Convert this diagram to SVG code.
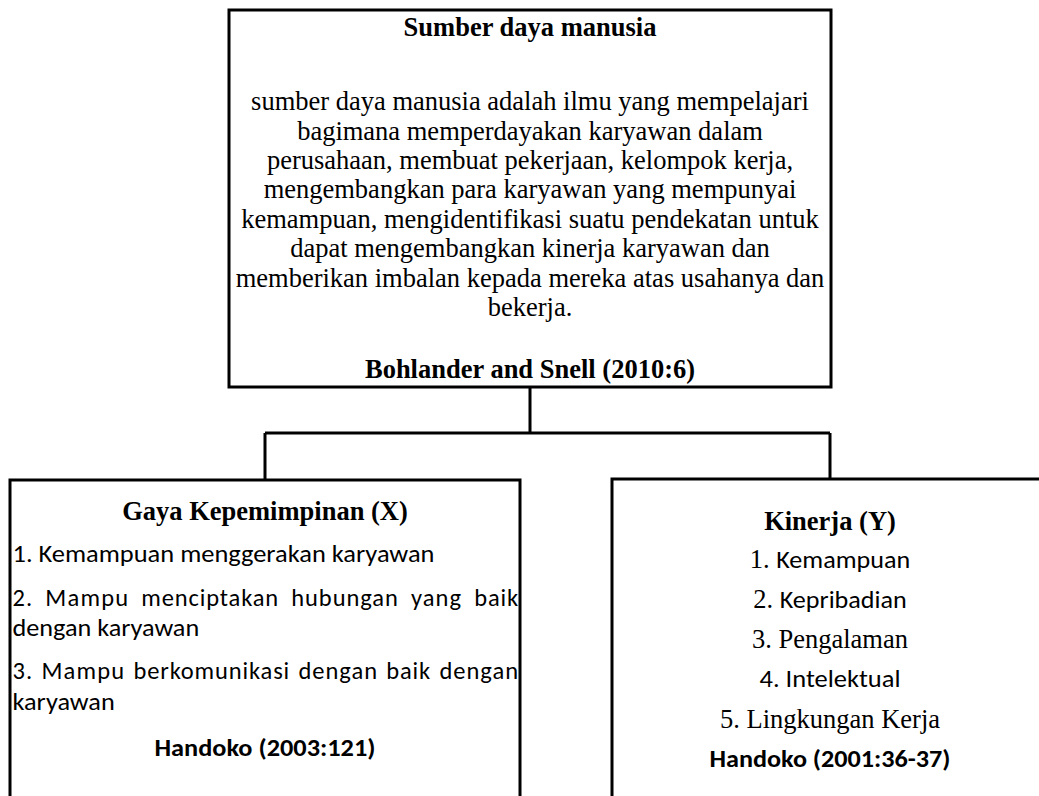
<svg xmlns="http://www.w3.org/2000/svg" width="1039" height="796" viewBox="0 0 1039 796">
<style>
.box{fill:#fff;stroke:#000;stroke-width:3}
.conn{fill:none;stroke:#000;stroke-width:3}
.serif{font-family:"Liberation Serif","Times New Roman",serif;font-size:26.5px;fill:#000}
.bold{font-weight:bold}
.sans{font-family:"Carlito","Lato","Liberation Sans",sans-serif;font-size:24.5px;fill:#000}
.mid{text-anchor:middle}
</style>
<rect width="1039" height="796" fill="#fff"/>
<g id="connectors">
<path class="conn" d="M530 387V433M265 433H830M265 433V480M830 433V479"/>
</g>
<g id="node-sdm">
<rect class="box" x="229" y="10" width="602" height="377"/>
<text class="serif bold mid" x="530" y="36">Sumber daya manusia</text>
<text class="serif mid" x="530" y="110">sumber daya manusia adalah ilmu yang mempelajari</text>
<text class="serif mid" x="530" y="140">bagimana memperdayakan karyawan dalam</text>
<text class="serif mid" x="530" y="169">perusahaan, membuat pekerjaan, kelompok kerja,</text>
<text class="serif mid" x="530" y="198">mengembangkan para karyawan yang mempunyai</text>
<text class="serif mid" x="530" y="228">kemampuan, mengidentifikasi suatu pendekatan untuk</text>
<text class="serif mid" x="530" y="257">dapat mengembangkan kinerja karyawan dan</text>
<text class="serif mid" x="530" y="287">memberikan imbalan kepada mereka atas usahanya dan</text>
<text class="serif mid" x="530" y="316">bekerja.</text>
<text class="serif bold mid" x="530" y="378">Bohlander and Snell (2010:6)</text>
</g>
<g id="node-gaya">
<rect class="box" x="10" y="480" width="510" height="400"/>
<text class="serif bold mid" x="265" y="520">Gaya Kepemimpinan (X)</text>
<text class="sans" x="12.5" y="562" textLength="422" lengthAdjust="spacingAndGlyphs">1. Kemampuan menggerakan karyawan</text>
<text class="sans" y="606" lengthAdjust="spacingAndGlyphs"><tspan x="12.5" textLength="19.7">2.</tspan><tspan x="45.3" textLength="82.8">Mampu</tspan><tspan x="141.2" textLength="137">menciptakan</tspan><tspan x="291.2" textLength="106.7">hubungan</tspan><tspan x="411" textLength="50.1">yang</tspan><tspan x="474.2" textLength="43.9">baik</tspan></text>
<text class="sans" x="12.5" y="636" textLength="186.7" lengthAdjust="spacingAndGlyphs">dengan karyawan</text>
<text class="sans" y="679" lengthAdjust="spacingAndGlyphs"><tspan x="12.5" textLength="19.7">3.</tspan><tspan x="41.4" textLength="82.8">Mampu</tspan><tspan x="133.5" textLength="155.7">berkomunikasi</tspan><tspan x="298.4" textLength="78.6">dengan</tspan><tspan x="386.2" textLength="43.9">baik</tspan><tspan x="439.4" textLength="78.6">dengan</tspan></text>
<text class="sans" x="12.5" y="710" textLength="102.2" lengthAdjust="spacingAndGlyphs">karyawan</text>
<text class="sans bold mid" x="265" y="756" textLength="221" lengthAdjust="spacingAndGlyphs">Handoko (2003:121)</text>
</g>
<g id="node-kinerja">
<rect class="box" x="612" y="479" width="436" height="400"/>
<text class="serif bold mid" x="830" y="530">Kinerja (Y)</text>
<text class="mid" x="830" y="568"><tspan class="serif">1. </tspan><tspan class="sans" textLength="134" lengthAdjust="spacingAndGlyphs">Kemampuan</tspan></text>
<text class="mid" x="830" y="608"><tspan class="serif">2. </tspan><tspan class="sans" textLength="127" lengthAdjust="spacingAndGlyphs">Kepribadian</tspan></text>
<text class="serif mid" x="830" y="648">3. Pengalaman</text>
<text class="sans mid" x="830" y="687" textLength="141" lengthAdjust="spacingAndGlyphs">4. Intelektual</text>
<text class="serif mid" x="830" y="728">5. Lingkungan Kerja</text>
<text class="sans bold mid" x="830" y="767" textLength="241" lengthAdjust="spacingAndGlyphs">Handoko (2001:36-37)</text>
</g>
</svg>
